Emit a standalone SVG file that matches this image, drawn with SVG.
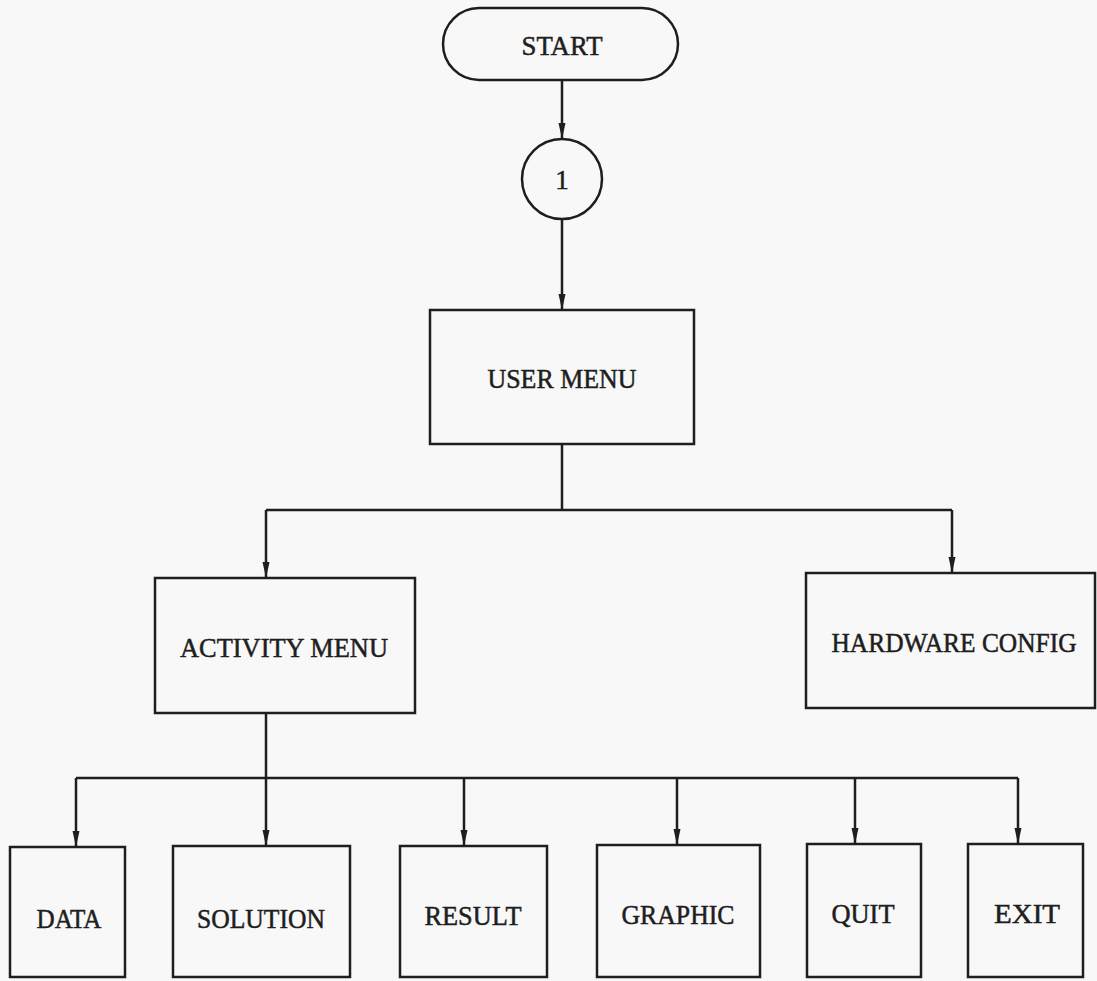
<svg xmlns="http://www.w3.org/2000/svg" width="1097" height="981" viewBox="0 0 1097 981">
<defs>
<marker id="arr" viewBox="0 0 16 8" refX="16" refY="4" markerWidth="16" markerHeight="8" markerUnits="userSpaceOnUse" orient="auto">
<path d="M0,0.5 L16,4 L0,7.5 z" fill="#1e1e1e"/>
</marker>
<style>
.box{fill:none;stroke:#1e1e1e;stroke-width:2.5}
.ln{fill:none;stroke:#1e1e1e;stroke-width:2.5}
.t{font-family:"Liberation Serif","Times New Roman",serif;font-size:27px;fill:#1e1e1e;stroke:#1e1e1e;stroke-width:0.5;text-anchor:middle}
</style>
</defs>
<rect width="1097" height="981" fill="#f8f8f8"/>
<g id="connectors">
<line class="ln" x1="562" y1="80" x2="562" y2="139" marker-end="url(#arr)"/>
<line class="ln" x1="562" y1="219" x2="562" y2="310" marker-end="url(#arr)"/>
<polyline class="ln" points="562,444 562,510"/>
<polyline class="ln" points="266,510 952,510"/>
<line class="ln" x1="266" y1="510" x2="266" y2="578" marker-end="url(#arr)"/>
<line class="ln" x1="952" y1="510" x2="952" y2="573" marker-end="url(#arr)"/>
<polyline class="ln" points="266,713 266,778"/>
<polyline class="ln" points="76,778 1018,778"/>
<line class="ln" x1="76" y1="778" x2="76" y2="847" marker-end="url(#arr)"/>
<line class="ln" x1="266" y1="778" x2="266" y2="846" marker-end="url(#arr)"/>
<line class="ln" x1="464" y1="778" x2="464" y2="846" marker-end="url(#arr)"/>
<line class="ln" x1="677" y1="778" x2="677" y2="845" marker-end="url(#arr)"/>
<line class="ln" x1="855" y1="778" x2="855" y2="844" marker-end="url(#arr)"/>
<line class="ln" x1="1018" y1="778" x2="1018" y2="844" marker-end="url(#arr)"/>
</g>
<g id="start"><rect class="box" x="443" y="8" width="235" height="72" rx="36" ry="36"/><text class="t" x="562" y="55" textLength="81" lengthAdjust="spacingAndGlyphs">START</text></g>
<g id="connector1"><circle class="box" cx="562" cy="179" r="40"/><text class="t" x="562" y="189">1</text></g>
<g id="user-menu"><rect class="box" x="430" y="310" width="264" height="134"/><text class="t" x="562" y="388" textLength="149" lengthAdjust="spacingAndGlyphs">USER MENU</text></g>
<g id="activity-menu"><rect class="box" x="155" y="578" width="260" height="135"/><text class="t" x="284" y="657" textLength="208" lengthAdjust="spacingAndGlyphs">ACTIVITY MENU</text></g>
<g id="hardware-config"><rect class="box" x="806" y="573" width="289" height="135"/><text class="t" x="954" y="652" textLength="245" lengthAdjust="spacingAndGlyphs">HARDWARE CONFIG</text></g>
<g id="data"><rect class="box" x="10" y="847" width="115" height="130"/><text class="t" x="69" y="928" textLength="65" lengthAdjust="spacingAndGlyphs">DATA</text></g>
<g id="solution"><rect class="box" x="173" y="846" width="177" height="131"/><text class="t" x="261" y="928" textLength="128" lengthAdjust="spacingAndGlyphs">SOLUTION</text></g>
<g id="result"><rect class="box" x="400" y="846" width="147" height="131"/><text class="t" x="473" y="925" textLength="97" lengthAdjust="spacingAndGlyphs">RESULT</text></g>
<g id="graphic"><rect class="box" x="597" y="845" width="163" height="132"/><text class="t" x="678" y="924" textLength="113" lengthAdjust="spacingAndGlyphs">GRAPHIC</text></g>
<g id="quit"><rect class="box" x="807" y="844" width="114" height="133"/><text class="t" x="863" y="923" textLength="63" lengthAdjust="spacingAndGlyphs">QUIT</text></g>
<g id="exit"><rect class="box" x="968" y="844" width="115" height="133"/><text class="t" x="1027" y="923" textLength="66" lengthAdjust="spacingAndGlyphs">EXIT</text></g>
</svg>
